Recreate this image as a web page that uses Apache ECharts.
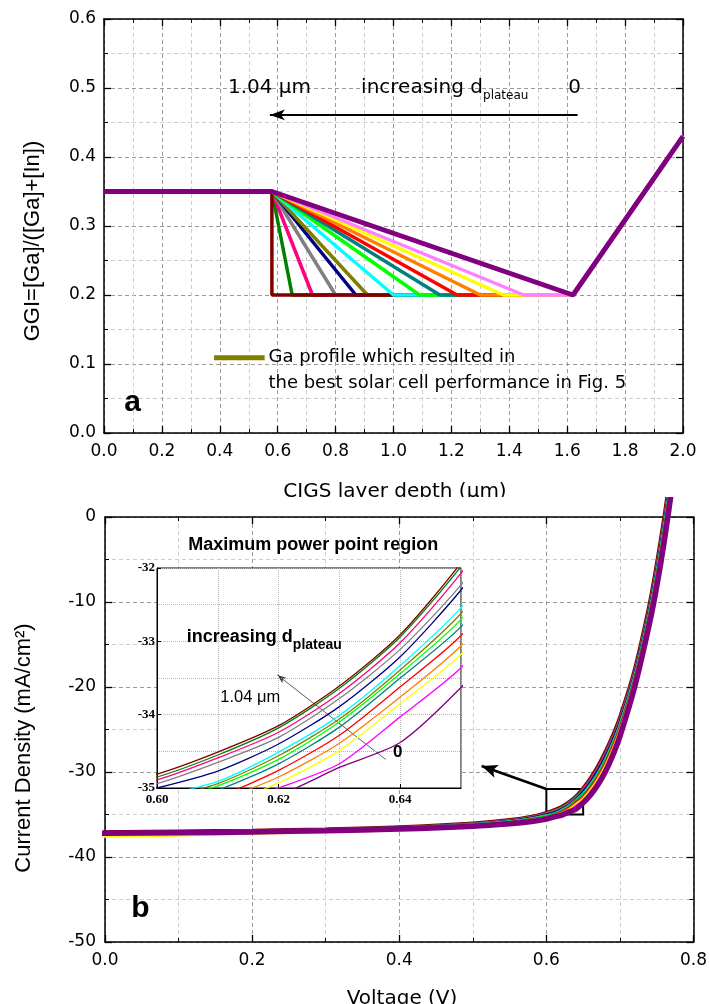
<!DOCTYPE html>
<html>
<head>
<meta charset="utf-8">
<title>GGI profiles and J-V curves</title>
<script src="https://cdn.jsdelivr.net/npm/echarts@6.0.0/dist/echarts.min.js"></script>
<style>
  html, body { margin: 0; padding: 0; background: #fff; }
  .wrapper { position: relative; width: 710px; height: 1004px; overflow: hidden; }
  #chartA { position: absolute; left: 0; top: 0; width: 710px; height: 497px; }
  #chartB { position: absolute; left: 0; top: 497px; width: 710px; height: 507px; }
</style>
</head>
<body>
<div class="wrapper">
  <div id="chartA"></div>
  <div id="chartB"></div>
</div>
<script>
// ---------- (a) Ga grading profiles ----------
const frontGGI = 0.35;      // front plateau GGI
const frontEnd = 0.58;      // end of front plateau (um)
const notchDepth = 1.62;    // GGI minimum position (um)
const notchGGI = 0.2;
const backDepth = 2.0;
const backGGI = 0.43;
// end of the linear grade for each profile (um), d_plateau = 1.04 ... 0
const gradeEnd = [0.58, 0.65, 0.72, 0.80, 0.87, 0.91, 1.00, 1.09, 1.16, 1.22, 1.30, 1.38, 1.45, 1.62];
const profileColors = ['#800000', '#008000', '#ff0080', '#808080', '#000080', '#808000', '#00ffff',
  '#00ff00', '#008080', '#ff0000', '#ff8000', '#ffff00', '#ff80ff', '#800080'];
// drawing order (dark red sits over the steepest ones on the floor)
const profileOrder = [1, 2, 3, 4, 5, 0, 6, 7, 8, 9, 10, 11, 12, 13];

// ---------- (b) J-V curves ----------
const voltage = [-0.01, 0.1, 0.2, 0.3, 0.4, 0.5, 0.55, 0.58, 0.60, 0.61, 0.62, 0.63, 0.64, 0.65,
  0.66, 0.67, 0.68, 0.69, 0.70, 0.72, 0.74, 0.75, 0.76, 0.77];
const jDarkRed = [-37.1, -37.0, -36.9, -36.75, -36.5, -36.05, -35.65, -35.25, -34.81, -34.51, -34.15, -33.61, -32.91, -31.93, -30.75, -29.35, -27.7, -25.8, -23.6, -18.0, -10.4, -5.6, -0.2, 5.8];
const jGreen = [-37.11, -37.01, -36.91, -36.76, -36.51, -36.07, -35.67, -35.28, -34.85, -34.55, -34.18, -33.64, -32.94, -31.98, -30.83, -29.44, -27.79, -25.89, -23.69, -18.08, -10.49, -5.7, -0.31, 5.69];
const jDeepPink = [-37.12, -37.02, -36.92, -36.77, -36.52, -36.08, -35.69, -35.3, -34.89, -34.59, -34.24, -33.71, -33.02, -32.07, -30.91, -29.52, -27.88, -25.98, -23.78, -18.16, -10.58, -5.81, -0.42, 5.58];
const jGray = [-37.14, -37.05, -36.95, -36.8, -36.55, -36.12, -35.74, -35.36, -34.94, -34.65, -34.31, -33.78, -33.11, -32.23, -31.1, -29.74, -28.11, -26.21, -24.0, -18.36, -10.8, -6.07, -0.7, 5.3];
const jNavy = [-37.14, -37.06, -36.96, -36.81, -36.57, -36.14, -35.76, -35.39, -35.0, -34.77, -34.4, -33.89, -33.21, -32.3, -31.18, -29.82, -28.21, -26.31, -24.08, -18.44, -10.88, -6.17, -0.82, 5.18];
const jCyan = [-37.17, -37.09, -36.99, -36.84, -36.61, -36.19, -35.83, -35.47, -35.12, -34.91, -34.51, -34.01, -33.33, -32.54, -31.45, -30.12, -28.53, -26.63, -24.39, -18.72, -11.19, -6.54, -1.21, 4.79];
const jOlive = [-37.18, -37.1, -37.0, -36.85, -36.62, -36.21, -35.86, -35.5, -35.16, -34.94, -34.56, -34.06, -33.39, -32.62, -31.55, -30.23, -28.64, -26.74, -24.5, -18.82, -11.3, -6.67, -1.35, 4.65];
const jLime = [-37.19, -37.11, -37.01, -36.86, -36.64, -36.23, -35.88, -35.52, -35.2, -34.97, -34.61, -34.1, -33.44, -32.7, -31.63, -30.32, -28.74, -26.84, -24.59, -18.9, -11.39, -6.77, -1.46, 4.54];
const jTeal = [-37.2, -37.13, -37.03, -36.88, -36.65, -36.25, -35.9, -35.56, -35.28, -35.03, -34.67, -34.17, -33.5, -32.8, -31.74, -30.45, -28.87, -26.97, -24.72, -19.02, -11.52, -6.93, -1.63, 4.37];
const jRed = [-37.22, -37.15, -37.05, -36.9, -36.67, -36.28, -35.94, -35.6, -35.36, -35.12, -34.76, -34.28, -33.62, -32.92, -31.88, -30.6, -29.03, -27.13, -24.88, -19.16, -11.68, -7.11, -1.82, 4.18];
const jOrange = [-37.55, -37.4, -37.2, -37.0, -36.72, -36.31, -35.98, -35.65, -35.42, -35.17, -34.85, -34.39, -33.76, -33.06, -32.04, -30.77, -29.22, -27.32, -25.05, -19.32, -11.85, -7.32, -2.05, 3.95];
const jYellow = [-37.6, -37.45, -37.24, -37.02, -36.75, -36.35, -36.02, -35.7, -35.48, -35.25, -34.93, -34.49, -33.85, -33.18, -32.19, -30.94, -29.4, -27.5, -25.23, -19.48, -12.03, -7.52, -2.27, 3.73];
const jMagenta = [-37.18, -37.12, -37.02, -36.88, -36.68, -36.33, -36.02, -35.75, -35.52, -35.28, -35.0, -34.67, -34.03, -33.36, -32.39, -31.16, -29.63, -27.73, -25.45, -19.68, -12.25, -7.78, -2.55, 3.45];
const jPurple = [-37.2, -37.15, -37.05, -36.9, -36.7, -36.37, -36.08, -35.82, -35.55, -35.3, -35.1, -34.72, -34.38, -33.63, -32.7, -31.5, -30.0, -28.1, -25.8, -20.0, -12.6, -8.2, -3.0, 3.0];
const ivCurves = [jDarkRed, jGreen, jDeepPink, jGray, jNavy, jCyan, jOlive, jLime, jTeal, jRed, jOrange, jYellow, jMagenta, jPurple];
const ivColors = ['#800000', '#008000', '#ff0080', '#808080', '#000080', '#00ffff', '#808000',
  '#00ff00', '#008080', '#ff0000', '#ff8000', '#ffff00', '#ff00ff', '#800080'];

const SANS = 'DejaVu Sans';
const ARIAL = 'Liberation Sans';
const SERIF = 'Liberation Serif';

const measureCtx = document.createElement('canvas').getContext('2d');
function textWidth(text, font) {
  measureCtx.font = font;
  return measureCtx.measureText(text).width;
}

// framed axis with inward ticks and dashed grid
function frameAxis(opt) {
  return Object.assign({
    type: 'value',
    axisLine: {show: true, onZero: false, lineStyle: {color: '#000', width: 1.5}},
    axisTick: {show: true, inside: true, length: 7, lineStyle: {color: '#000', width: 1.3}},
    minorTick: {show: true, splitNumber: 2, length: 4, lineStyle: {color: '#000', width: 1}},
    axisLabel: {show: true, color: '#000', fontFamily: SANS, fontSize: 17, margin: 10},
    splitLine: {show: true, lineStyle: {color: '#9a9a9a', type: [4, 3], width: 1}},
    minorSplitLine: {show: true, lineStyle: {color: '#cdcdcd', type: [4, 3], width: 1}}
  }, opt);
}
function mirrorAxis(opt) {
  return frameAxis(Object.assign({
    axisLabel: {show: false},
    splitLine: {show: false},
    minorSplitLine: {show: false}
  }, opt));
}

// ================= chart (a) =================
const chartA = echarts.init(document.getElementById('chartA'));
const profileSeries = profileOrder.map(i => ({
  type: 'line',
  symbol: 'none',
  silent: true,
  xAxisIndex: 0,
  yAxisIndex: 0,
  lineStyle: {color: profileColors[i], width: i === 13 ? 5 : 3.5},
  data: [[0, frontGGI], [frontEnd, frontGGI], [gradeEnd[i], notchGGI], [notchDepth, notchGGI], [backDepth, backGGI]]
}));
// arrow "increasing d_plateau"
profileSeries[profileSeries.length - 1].markLine = {
  silent: true,
  symbol: ['none', 'arrow'],
  symbolSize: [8, 15],
  label: {show: false},
  lineStyle: {color: '#000', width: 2, type: 'solid'},
  data: [[{coord: [1.636, 0.461]}, {coord: [0.573, 0.461]}]]
};

chartA.setOption({
  animation: false,
  backgroundColor: '#fff',
  grid: {left: 104, top: 19, width: 579, height: 414},
  xAxis: [
    frameAxis({min: 0, max: 2, interval: 0.2, position: 'bottom',
      axisLabel: {color: '#000', fontFamily: SANS, fontSize: 17, margin: 10, formatter: v => v.toFixed(1)}}),
    mirrorAxis({min: 0, max: 2, interval: 0.2, position: 'top'})
  ],
  yAxis: [
    frameAxis({min: 0, max: 0.6, interval: 0.1, position: 'left',
      axisLabel: {color: '#000', fontFamily: SANS, fontSize: 17, margin: 8, formatter: v => v.toFixed(1)}}),
    mirrorAxis({min: 0, max: 0.6, interval: 0.1, position: 'right'})
  ],
  series: profileSeries
});

(function annotateA() {
  const px = p => chartA.convertToPixel({seriesIndex: 0}, p);
  const big = '20px "' + SANS + '"';
  const incStart = px([0.888, 0.5]);
  const incW = textWidth('increasing d', big);
  const legA = px([0.38, 0.109]);
  const legB = px([0.555, 0.109]);
  const legT1 = px([0.568, 0.109]);
  const legT2 = px([0.568, 0.0725]);
  const lblA = px([0.099, 0.044]);
  const mu = px([0.428, 0.5]);
  const zero = px([1.626, 0.5]);
  const txt = (x, y, text, size, extra) => ({
    type: 'text', x: x, y: y, silent: true,
    style: Object.assign({text: text, fill: '#000', fontFamily: SANS, fontSize: size,
      align: 'left', verticalAlign: 'middle'}, extra || {})
  });
  chartA.setOption({
    graphic: [
      txt(mu[0], mu[1], '1.04 \u03bcm', 20),
      txt(incStart[0], incStart[1], 'increasing d', 20),
      txt(incStart[0] + incW, incStart[1] + 8, 'plateau', 12),
      txt(zero[0], zero[1], '0', 20, {align: 'center'}),
      {type: 'line', silent: true, shape: {x1: legA[0], y1: legA[1], x2: legB[0], y2: legB[1]},
        style: {stroke: '#808000', lineWidth: 5}},
      txt(legT1[0], legT1[1], 'Ga profile which resulted in', 18),
      txt(legT2[0], legT2[1], 'the best solar cell performance in Fig. 5', 18),
      txt(lblA[0], lblA[1], 'a', 30, {fontFamily: ARIAL, fontWeight: 'bold', align: 'center'}),
      // axis titles
      {type: 'text', x: 33, y: 241, rotation: Math.PI / 2, silent: true,
        style: {text: 'GGI=[Ga]/([Ga]+[In])', fill: '#000', fontFamily: ARIAL, fontSize: 22,
          align: 'center', verticalAlign: 'middle'}},
      txt(395, 482, 'CIGS layer depth (\u03bcm)', 20, {align: 'center', verticalAlign: 'top'})
    ]
  });
})();

// ================= chart (b) =================
const chartB = echarts.init(document.getElementById('chartB'));
const mainSeries = ivCurves.map((j, k) => ({
  type: 'line',
  symbol: 'none',
  silent: true,
  clip: false,
  smooth: 0.35,
  xAxisIndex: 0,
  yAxisIndex: 0,
  lineStyle: {color: ivColors[k], width: k === 0 ? 4 : (k === 13 ? 5.5 : 2.5)},
  data: voltage.map((v, n) => [v, j[n]])
}));
// zoom box and arrow to the inset
mainSeries[13].markArea = {
  silent: true,
  itemStyle: {color: 'rgba(0,0,0,0)', borderColor: '#000', borderWidth: 2},
  label: {show: false},
  data: [[{coord: [0.60, -32]}, {coord: [0.65, -35]}]]
};
mainSeries[13].markLine = {
  silent: true,
  symbol: ['none', 'arrow'],
  symbolSize: [10, 16],
  label: {show: false},
  lineStyle: {color: '#000', width: 2.5, type: 'solid'},
  data: [[{coord: [0.60, -32]}, {coord: [0.512, -29.3]}]]
};
const insetSeries = ivCurves.map((j, k) => ({
  type: 'line',
  symbol: 'none',
  silent: true,
  clip: true,
  smooth: 0.25,
  xAxisIndex: 2,
  yAxisIndex: 2,
  z: 8,
  lineStyle: {color: ivColors[k], width: 1.3},
  data: voltage.map((v, n) => [v, j[n]])
}));
insetSeries[0].markLine = {
  silent: true,
  symbol: ['none', 'arrow'],
  symbolSize: [5, 9],
  label: {show: false},
  lineStyle: {color: '#333', width: 0.8, type: 'solid'},
  data: [[{coord: [0.6376, -34.61]}, {coord: [0.6198, -33.46]}]]
};

const insetLabel = {color: '#000', fontFamily: SERIF, fontWeight: 'bold', fontSize: 13};
const insetGrid = {show: true, lineStyle: {color: '#b5b5b5', type: 'dotted', width: 1}};
chartB.setOption({
  animation: false,
  backgroundColor: 'transparent',
  grid: [
    {left: 105, top: 20, width: 589, height: 425},
    {left: 157, top: 71, width: 304, height: 220, show: true, backgroundColor: '#fff',
      borderColor: '#000', borderWidth: 1, z: 5}
  ],
  xAxis: [
    frameAxis({gridIndex: 0, min: 0, max: 0.8, interval: 0.2, position: 'bottom',
      axisLabel: {color: '#000', fontFamily: SANS, fontSize: 17, margin: 10, formatter: v => v.toFixed(1)}}),
    mirrorAxis({gridIndex: 0, min: 0, max: 0.8, interval: 0.2, position: 'top'}),
    {type: 'value', gridIndex: 1, min: 0.60, max: 0.65, interval: 0.02, z: 6,
      axisLine: {show: true, onZero: false, lineStyle: {color: '#000', width: 1}},
      axisTick: {show: true, inside: true, length: 4, lineStyle: {color: '#000'}},
      axisLabel: Object.assign({margin: 5, showMaxLabel: false, formatter: v => v.toFixed(2)}, insetLabel),
      splitLine: insetGrid,
      minorTick: {show: false, splitNumber: 2},
      minorSplitLine: insetGrid}
  ],
  yAxis: [
    frameAxis({gridIndex: 0, min: -50, max: 0, interval: 10, position: 'left',
      axisLabel: {color: '#000', fontFamily: SANS, fontSize: 17, margin: 9}}),
    mirrorAxis({gridIndex: 0, min: -50, max: 0, interval: 10, position: 'right'}),
    {type: 'value', gridIndex: 1, min: -35, max: -32, interval: 1, z: 6,
      axisLine: {show: true, onZero: false, lineStyle: {color: '#000', width: 1}},
      axisTick: {show: true, inside: true, length: 4, lineStyle: {color: '#000'}},
      axisLabel: Object.assign({margin: 2}, insetLabel),
      splitLine: insetGrid,
      minorTick: {show: false, splitNumber: 2},
      minorSplitLine: insetGrid}
  ],
  series: mainSeries.concat(insetSeries)
});

(function annotateB() {
  const pm = p => chartB.convertToPixel({seriesIndex: 0}, p);
  const pi = p => chartB.convertToPixel({seriesIndex: 14}, p);
  const incFont = 'bold 18px "' + ARIAL + '"';
  const inc = pi([0.6049, -32.94]);
  const incW = textWidth('increasing d', incFont);
  const title = pi([0.6257, -31.68]);
  const mu = pi([0.6104, -33.76]);
  const zero = pi([0.6396, -34.52]);
  const lblB = pm([0.048, -46.1]);
  const txt = (x, y, text, size, extra) => ({
    type: 'text', x: x, y: y, silent: true, z: 20,
    style: Object.assign({text: text, fill: '#000', fontFamily: ARIAL, fontSize: size,
      align: 'left', verticalAlign: 'middle'}, extra || {})
  });
  chartB.setOption({
    graphic: [
      txt(title[0], title[1], 'Maximum power point region', 18, {fontWeight: 'bold', align: 'center'}),
      txt(inc[0], inc[1], 'increasing d', 18, {fontWeight: 'bold'}),
      txt(inc[0] + incW, inc[1] + 8, 'plateau', 14, {fontWeight: 'bold'}),
      txt(mu[0], mu[1], '1.04 \u03bcm', 16.5),
      txt(zero[0], zero[1], '0', 17, {fontWeight: 'bold', align: 'center'}),
      txt(lblB[0], lblB[1], 'b', 30, {fontWeight: 'bold', align: 'center'}),
      {type: 'text', x: 24, y: 251, rotation: Math.PI / 2, silent: true,
        style: {text: 'Current Density (mA/cm\u00b2)', fill: '#000', fontFamily: ARIAL, fontSize: 22,
          align: 'center', verticalAlign: 'middle'}},
      txt(402, 492, 'Voltage (V)', 20, {fontFamily: SANS, align: 'center', verticalAlign: 'top'})
    ]
  });
})();
</script>
</body>
</html>
